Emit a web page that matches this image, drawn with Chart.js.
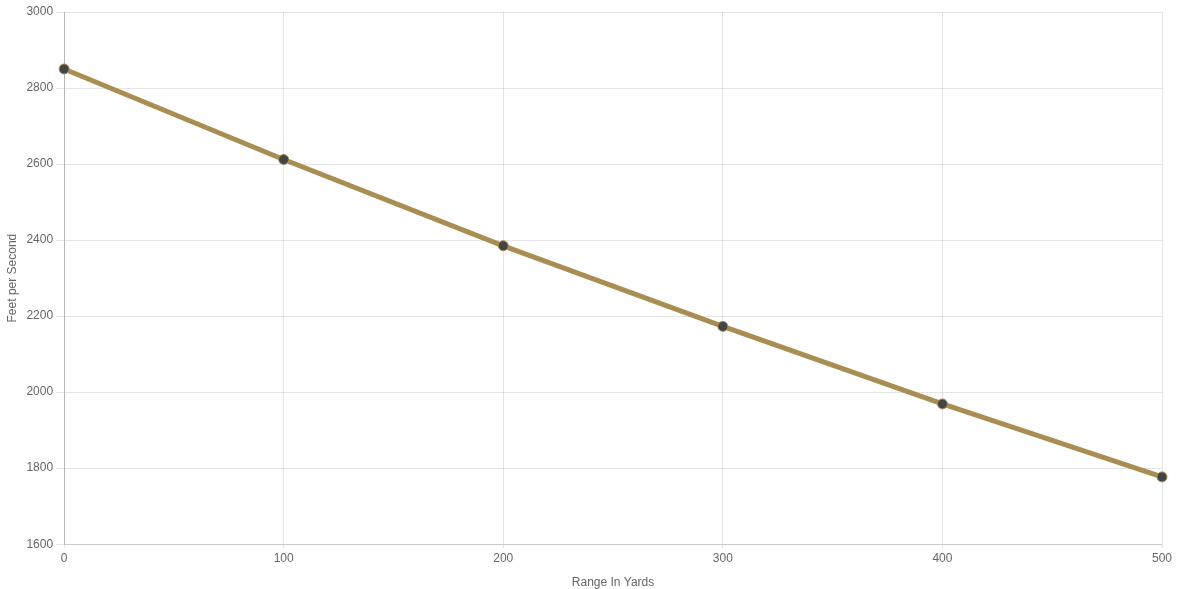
<!DOCTYPE html>
<html>
<head>
<meta charset="utf-8">
<script src="https://cdn.jsdelivr.net/npm/chart.js@4"></script>
<style>
  html, body { margin: 0; padding: 0; background: #fff; }
  #wrap { width: 1179px; height: 589px; }
</style>
</head>
<body>
<div id="wrap"><canvas id="myChart"></canvas></div>
<script>
// range in yards and muzzle velocity
let ranges = ["0", "100", "200", "300", "400", "500"];
let velocities = [2850, 2612, 2385, 2173, 1969, 1777];
let yTicks = { min: 1600, max: 3000, step: 200 };

Chart.defaults.font.family = "'Helvetica Neue', Helvetica, Arial, 'Liberation Sans', sans-serif";
Chart.defaults.font.size = 12;
Chart.defaults.color = "#666";

let ctx = document.getElementById("myChart");
let myChart = new Chart(ctx, {
  type: "line",
  data: {
    labels: ranges,
    datasets: [
      {
        label: "Velocity",
        data: velocities,
        borderColor: "#a88e52",
        borderWidth: 5,
        backgroundColor: "#444",
        pointBackgroundColor: "#444",
        pointBorderColor: "#a88e52",
        pointBorderWidth: 1,
        pointRadius: 5,
        tension: 0,
        fill: false,
      },
    ],
  },
  options: {
    responsive: true,
    maintainAspectRatio: false,
    animation: false,
    layout: { padding: { top: 12, right: 17, bottom: -2, left: 1 } },
    plugins: {
      legend: { display: false },
      tooltip: { enabled: false },
    },
    scales: {
      x: {
        offset: false,
        grid: { color: "rgba(0,0,0,0.1)", tickLength: 4 },
        border: { color: "rgba(0,0,0,0.12)" },
        ticks: { color: "#666", padding: 3 },
        title: { display: true, text: "Range In Yards", color: "#666", padding: { top: 7, bottom: 1 } },
      },
      y: {
        min: yTicks.min,
        max: yTicks.max,
        grid: { color: "rgba(0,0,0,0.1)" },
        border: { color: "rgba(0,0,0,0.2)" },
        ticks: {
          stepSize: yTicks.step,
          color: "#666",
          callback: (v) => String(v),
        },
        title: { display: true, text: "Feet per Second", color: "#666" },
      },
    },
  },
});
</script>
</body>
</html>
